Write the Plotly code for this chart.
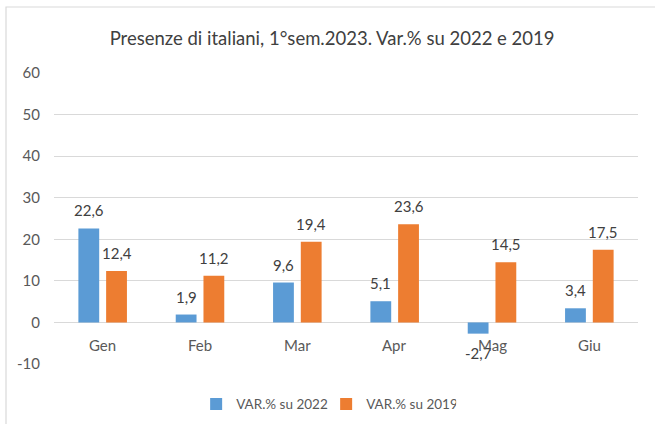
import plotly.graph_objects as go

categories = ["Gen", "Feb", "Mar", "Apr", "Mag", "Giu"]
var_2022 = [22.6, 1.9, 9.6, 5.1, -2.7, 3.4]
var_2019 = [12.4, 11.2, 19.4, 23.6, 14.5, 17.5]
series_names = ["VAR.% su 2022", "VAR.% su 2019"]
y_ticks = [-10, 0, 10, 20, 30, 40, 50, 60]
y_ticklabels = ["-10", "0", "10", "20", "30", "40", "50", "60"]
title_text = "Presenze di italiani, 1°sem.2023. Var.% su 2022 e 2019"

BLUE = "#5B9BD5"
ORANGE = "#ED7D31"
FONT = "Lato, sans-serif"

def fmt(v):
    return f"{v:.1f}".replace(".", ",")

fig = go.Figure()
fig.add_trace(go.Bar(x=categories, y=var_2022, name=series_names[0],
                     marker=dict(color=BLUE, line=dict(width=0))))
fig.add_trace(go.Bar(x=categories, y=var_2019, name=series_names[1],
                     marker=dict(color=ORANGE, line=dict(width=0))))

annotations = []
for vals, xs in ((var_2022, -14), (var_2019, 14)):
    for c, v in zip(categories, vals):
        annotations.append(dict(
            x=c, y=v, xref="x", yref="y", text=fmt(v), showarrow=False,
            xshift=xs, yshift=18 if v >= 0 else -19,
            font=dict(family=FONT, size=15, color="#404040"),
            xanchor="center", yanchor="middle"))
for c in categories:
    annotations.append(dict(
        x=c, y=0, xref="x", yref="y", text=c, showarrow=False,
        yshift=-23, xanchor="center", yanchor="middle",
        font=dict(family=FONT, size=15, color="#595959")))

fig.update_layout(
    width=655, height=424,
    margin=dict(l=54, r=17, t=73, b=60, autoexpand=False),
    paper_bgcolor="white", plot_bgcolor="white",
    bargap=0.43, bargroupgap=0.25,
    font=dict(family=FONT, size=15, color="#595959"),
    title=dict(text=title_text, x=0.507, xref="container", xanchor="center",
               y=0.91, yref="container", yanchor="middle",
               font=dict(family=FONT, size=18.5, color="#404040")),
    showlegend=True,
    legend=dict(orientation="h", x=0.466, xanchor="center", y=-0.085, yanchor="top",
                font=dict(family=FONT, size=13.5, color="#595959"),
                itemwidth=30, entrywidth=85, entrywidthmode="pixels",
                traceorder="normal"),
    annotations=annotations,
    shapes=[dict(type="rect", xref="paper", yref="paper",
                 x0=-0.0822, x1=1.2, y0=-0.4, y1=1.2268,
                 line=dict(color="#D9D9D9", width=1.2), layer="below")],
)
fig.update_xaxes(showticklabels=False, showgrid=False, zeroline=False, showline=False,
                 automargin=False)
fig.update_yaxes(range=[-10, 60], tickvals=y_ticks, ticktext=y_ticklabels,
                 showgrid=True, gridcolor="#D9D9D9", gridwidth=1,
                 zeroline=True, zerolinecolor="#D9D9D9", zerolinewidth=1,
                 showline=False, ticks="", ticklabelstandoff=13, automargin=False,
                 tickfont=dict(family=FONT, size=15, color="#595959"))

fig.write_html("out.html", config={"displayModeBar": False},
               post_script="document.body.style.margin='0';")
